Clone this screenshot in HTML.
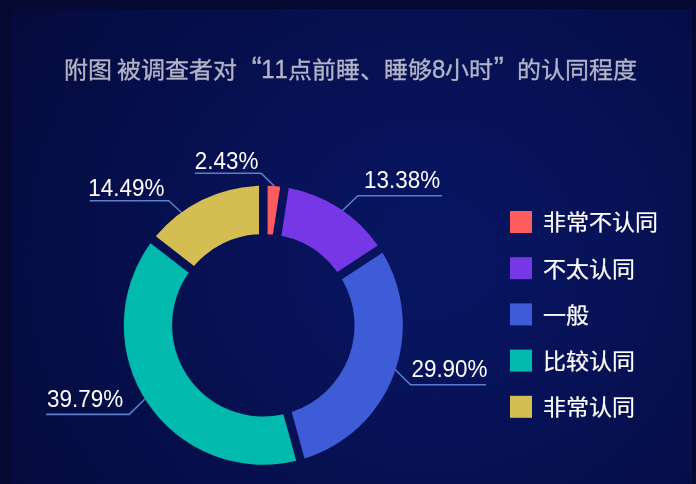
<!DOCTYPE html>
<html lang="zh-CN">
<head>
<meta charset="utf-8">
<style>
html,body{margin:0;padding:0;}
body{width:696px;height:484px;overflow:hidden;background:#050932;font-family:"Liberation Sans",sans-serif;position:relative;}
.panel{position:absolute;left:12px;top:9px;width:680px;height:475px;background:radial-gradient(ellipse 70% 95% at 62% 52%, #081562 0%, #071258 35%, #060f4c 65%, #050b3e 100%);}
svg{position:absolute;left:0;top:0;will-change:transform;font-family:"Liberation Sans",sans-serif;}
</style>
</head>
<body>
<div class="panel"></div>
<svg width="696" height="484" viewBox="0 0 696 484">
<g fill="#b3b4c6" stroke="#b3b4c6" stroke-width="0.35"><text transform="translate(0,78.2) scale(1,0.955)" x="63.90 87.90 111.90 117.28 141.28 165.28 189.28 213.28" y="0" font-size="24">附图 被调查者对</text><text x="251.82" y="77.40" font-size="30">“</text><text transform="translate(261.28,78.20) scale(1,1.06)" x="0.00 13.32" y="0" font-size="24">11</text><text transform="translate(0,78.2) scale(1,0.955)" x="287.92 311.92 335.92 359.92 383.92 407.92" y="0" font-size="24">点前睡、睡够</text><text transform="translate(431.92,78.20) scale(1,1.06)" x="0.00" y="0" font-size="24">8</text><text transform="translate(0,78.2) scale(1,0.955)" x="445.24 469.24" y="0" font-size="24">小时</text><text x="493.70" y="77.40" font-size="30">”</text><text transform="translate(0,78.2) scale(1,0.955)" x="517.24 541.24 565.24 589.24 613.24" y="0" font-size="24">的认同程度</text></g>
<g fill="none" stroke="#5880cc" stroke-width="1.6"><polyline points="194.7,173.2 261.2,173.2 274.2,186"/><polyline points="89.7,200.7 168.8,200.7 182,213"/><polyline points="442,195.7 357.9,195.7 342,211"/><polyline points="486,384.7 410.6,384.7 395,369.5"/><polyline points="46.1,414.4 129.3,414.4 145,399"/></g>
<path d="M267.60,185.82A139.5,139.5 0 0 1 280.26,186.78L272.91,234.56A91.2,91.2 0 0 0 267.60,234.15Z" fill="#fd5d5f"/>
<path d="M288.76,188.09A139.5,139.5 0 0 1 377.79,245.55L337.29,271.93A91.2,91.2 0 0 0 281.41,235.87Z" fill="#7637e6"/>
<path d="M382.48,252.75A139.5,139.5 0 0 1 304.54,458.52L291.68,411.92A91.2,91.2 0 0 0 341.98,279.13Z" fill="#3e5cd7"/>
<path d="M296.25,460.80A139.5,139.5 0 0 1 150.53,243.13L188.71,272.77A91.2,91.2 0 0 0 283.39,414.21Z" fill="#01b9ad"/>
<path d="M155.81,236.33A139.5,139.5 0 0 1 259.00,185.82L259.00,234.15A91.2,91.2 0 0 0 193.99,265.98Z" fill="#d4bd52"/>
<g fill="#ffffff"><text transform="translate(194.77,169.00) scale(1.02,1.06)" font-size="22">2.43%</text>
<text transform="translate(88.34,196.00) scale(1.02,1.06)" font-size="22">14.49%</text>
<text transform="translate(364.04,188.00) scale(1.02,1.06)" font-size="22">13.38%</text>
<text transform="translate(411.43,377.10) scale(1.02,1.06)" font-size="22">29.90%</text>
<text transform="translate(47.02,407.10) scale(1.02,1.06)" font-size="22">39.79%</text></g>
<rect x="510" y="211.0" width="22" height="22" fill="#fd5d5f"/>
<text transform="translate(0,230.30) scale(1,0.955)" x="542.8 565.8 588.8 611.8 634.8" y="0" font-size="23" fill="#ffffff" stroke="#ffffff" stroke-width="0.25">非常不认同</text>
<rect x="510" y="257.2" width="22" height="22" fill="#7637e6"/>
<text transform="translate(0,276.50) scale(1,0.955)" x="542.8 565.8 588.8 611.8" y="0" font-size="23" fill="#ffffff" stroke="#ffffff" stroke-width="0.25">不太认同</text>
<rect x="510" y="303.4" width="22" height="22" fill="#3e5cd7"/>
<text transform="translate(0,322.70) scale(1,0.955)" x="542.8 565.8" y="0" font-size="23" fill="#ffffff" stroke="#ffffff" stroke-width="0.25">一般</text>
<rect x="510" y="349.6" width="22" height="22" fill="#01b9ad"/>
<text transform="translate(0,368.90) scale(1,0.955)" x="542.8 565.8 588.8 611.8" y="0" font-size="23" fill="#ffffff" stroke="#ffffff" stroke-width="0.25">比较认同</text>
<rect x="510" y="395.8" width="22" height="22" fill="#d4bd52"/>
<text transform="translate(0,415.10) scale(1,0.955)" x="542.8 565.8 588.8 611.8" y="0" font-size="23" fill="#ffffff" stroke="#ffffff" stroke-width="0.25">非常认同</text>
</svg>
</body>
</html>
